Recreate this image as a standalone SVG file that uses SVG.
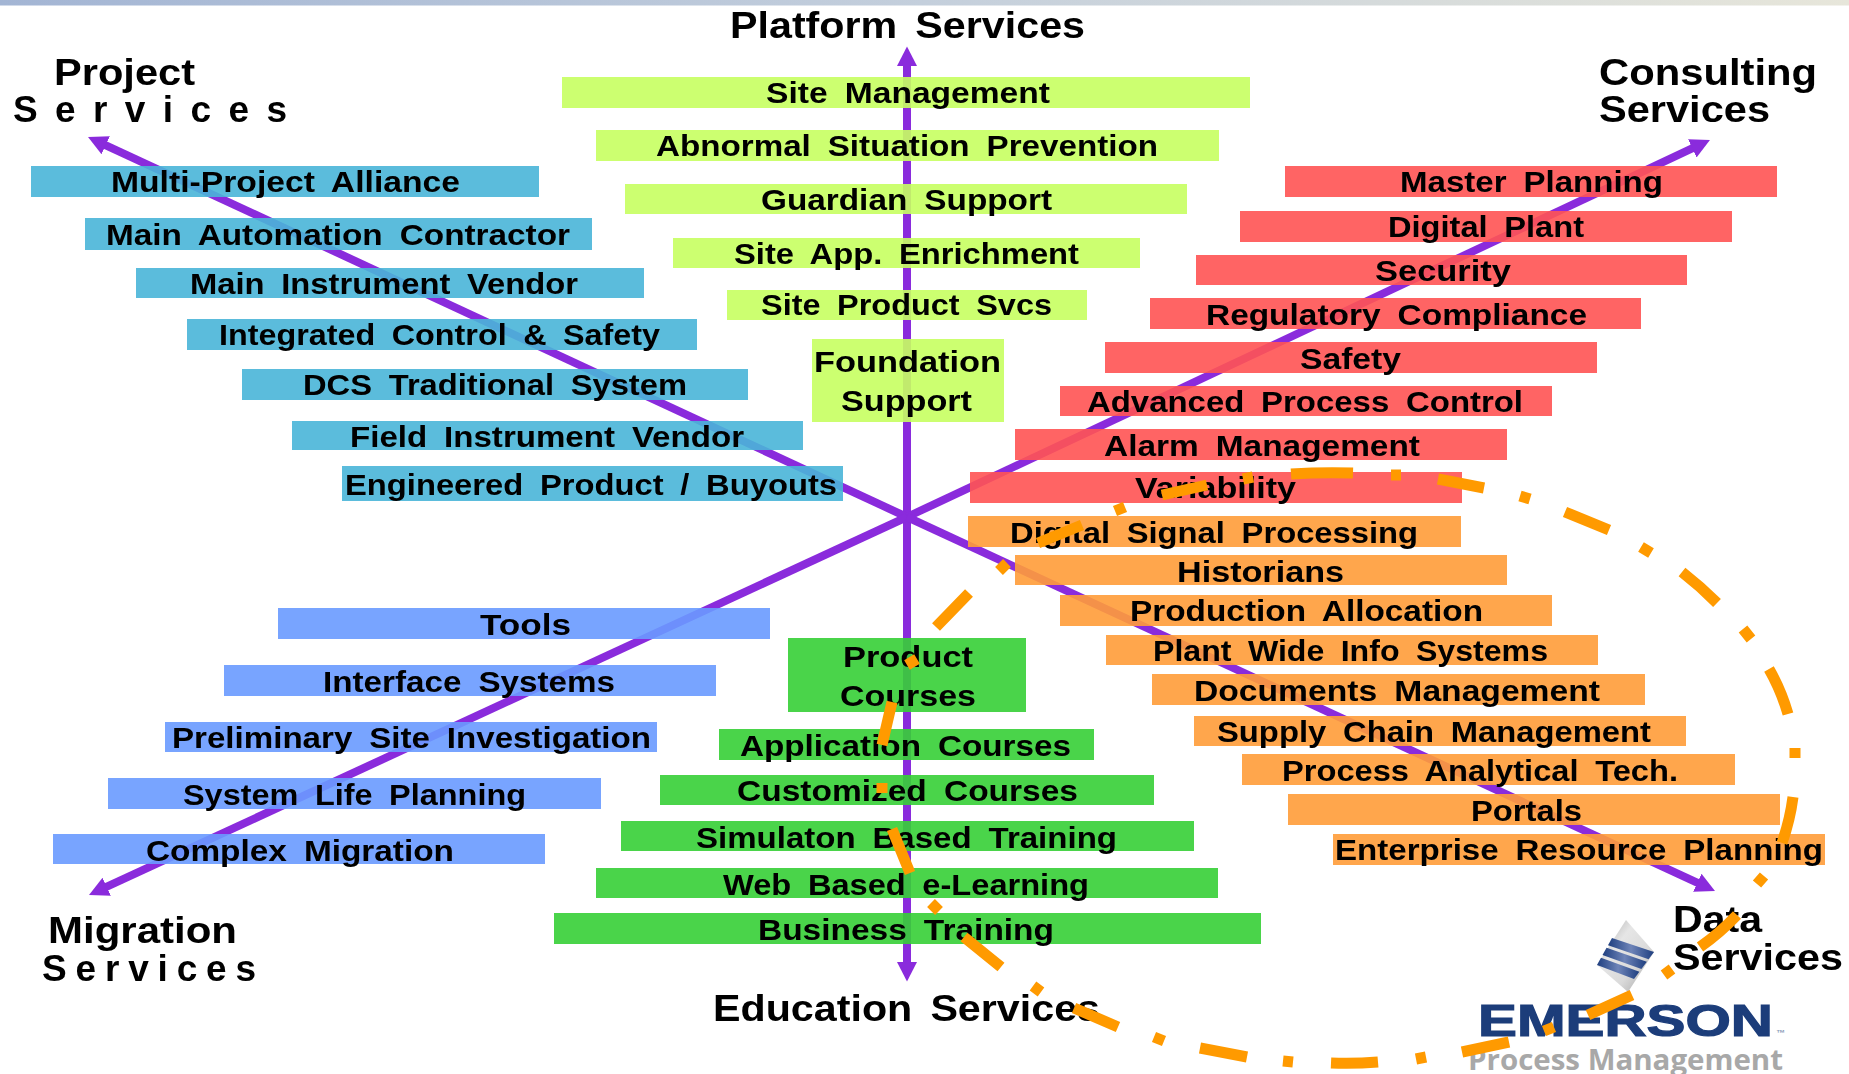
<svg xmlns="http://www.w3.org/2000/svg" width="1849" height="1074" viewBox="0 0 1849 1074">
<style>
text{font-family:"Liberation Sans",Arial,sans-serif;font-weight:700;fill:#000}
.t{font-size:30px;word-spacing:7px;filter:url(#soft)}
.h{font-size:37px;word-spacing:6px;filter:url(#soft)}
.teal{fill:#49B5D8}.lime{fill:#C7FF60}.red{fill:#FF5353}.org{fill:#FF9C39}.blue{fill:#699AFF}.grn{fill:#36CF36}
.bar{fill-opacity:.9}
.axis{stroke:#8A2BDC;stroke-width:8;fill:none;marker-end:url(#head)}
.ring{stroke:#FF9A00;stroke-width:11;fill:none}
</style>
<defs>
<filter id="soft" x="-5%" y="-20%" width="110%" height="140%"><feGaussianBlur stdDeviation="0.45"/></filter>
<linearGradient id="band"><stop offset="0" stop-color="#A3B5D4"/><stop offset=".5" stop-color="#C4CFDC"/><stop offset="1" stop-color="#E7E6DA"/></linearGradient>
<linearGradient id="steel" x1="0" y1="0" x2="1" y2="1"><stop offset="0" stop-color="#A0A0A0"/><stop offset=".35" stop-color="#E6E6E6"/><stop offset=".65" stop-color="#DADADA"/><stop offset="1" stop-color="#9C9C9C"/></linearGradient>
<linearGradient id="stripe"><stop offset="0" stop-color="#1F3F80"/><stop offset=".5" stop-color="#6E84B8"/><stop offset="1" stop-color="#1F3F80"/></linearGradient>
<marker id="head" markerUnits="userSpaceOnUse" markerWidth="22" markerHeight="24" refX="1" refY="12" orient="auto"><path d="M0,2 L19.5,12 L0,22 Z" fill="#8A2BDC"/></marker>
<clipPath id="cut"><rect x="0" y="900" width="400" height="81"/></clipPath>
</defs>
<rect x="0" y="0" width="1849" height="5.5" fill="url(#band)"/>
<g id="connectors">
<line class="axis" x1="907" y1="517" x2="907" y2="65"/>
<line class="axis" x1="907" y1="517" x2="907" y2="963"/>
<line class="axis" x1="907" y1="517" x2="104.8" y2="144.8"/>
<line class="axis" x1="907" y1="517" x2="1693.2" y2="147.9"/>
<line class="axis" x1="907" y1="517" x2="105.8" y2="887.2"/>
<line class="axis" x1="907" y1="517" x2="1698.2" y2="883.2"/>
</g>
<g id="platform-services"><text class="h" x="730" y="38" textLength="355" lengthAdjust="spacingAndGlyphs">Platform Services</text></g>
<g id="project-services"><text class="h" x="54" y="85" textLength="141" lengthAdjust="spacingAndGlyphs">Project</text><text class="h" x="13" y="122" textLength="288" style="letter-spacing:14px">Services</text></g>
<g id="consulting-services"><text class="h" x="1599" y="85" textLength="218" lengthAdjust="spacingAndGlyphs">Consulting</text><text class="h" x="1599" y="122" textLength="171" lengthAdjust="spacingAndGlyphs">Services</text></g>
<g id="migration-services"><text class="h" x="48" y="943" textLength="189" lengthAdjust="spacingAndGlyphs">Migration</text><g clip-path="url(#cut)"><text class="h" x="42" y="981" textLength="221" style="letter-spacing:7px">Services</text></g></g>
<g id="education-services"><text class="h" x="713" y="1021" textLength="387" lengthAdjust="spacingAndGlyphs">Education Services</text></g>
<g id="n-site-mgmt"><rect class="bar lime" x="562" y="77" width="688" height="31"/><text class="t" x="766" y="103" textLength="284" lengthAdjust="spacingAndGlyphs">Site Management</text></g>
<g id="n-abnormal"><rect class="bar lime" x="596" y="130" width="623" height="31"/><text class="t" x="656" y="156" textLength="502" lengthAdjust="spacingAndGlyphs">Abnormal Situation Prevention</text></g>
<g id="n-guardian"><rect class="bar lime" x="625" y="184" width="562" height="30"/><text class="t" x="761" y="210" textLength="291" lengthAdjust="spacingAndGlyphs">Guardian Support</text></g>
<g id="n-site-app"><rect class="bar lime" x="673" y="238" width="467" height="30"/><text class="t" x="734" y="264" textLength="345" lengthAdjust="spacingAndGlyphs">Site App. Enrichment</text></g>
<g id="n-site-product"><rect class="bar lime" x="727" y="290" width="360" height="30"/><text class="t" x="761" y="315" textLength="291" lengthAdjust="spacingAndGlyphs">Site Product Svcs</text></g>
<g id="n-foundation"><rect class="bar lime" x="812" y="339" width="192" height="83"/><text class="t" x="814" y="372" textLength="187" lengthAdjust="spacingAndGlyphs">Foundation</text><text class="t" x="841" y="411" textLength="131" lengthAdjust="spacingAndGlyphs">Support</text></g>
<g id="n-multi"><rect class="bar teal" x="31" y="166" width="508" height="31"/><text class="t" x="111" y="192" textLength="349" lengthAdjust="spacingAndGlyphs">Multi-Project Alliance</text></g>
<g id="n-main-auto"><rect class="bar teal" x="85" y="218" width="507" height="32"/><text class="t" x="106" y="245" textLength="464" lengthAdjust="spacingAndGlyphs">Main Automation Contractor</text></g>
<g id="n-main-instr"><rect class="bar teal" x="136" y="268" width="508" height="30"/><text class="t" x="190" y="294" textLength="388" lengthAdjust="spacingAndGlyphs">Main Instrument Vendor</text></g>
<g id="n-integrated"><rect class="bar teal" x="187" y="319" width="510" height="31"/><text class="t" x="219" y="345" textLength="441" lengthAdjust="spacingAndGlyphs">Integrated Control &amp; Safety</text></g>
<g id="n-dcs"><rect class="bar teal" x="242" y="369" width="506" height="31"/><text class="t" x="303" y="395" textLength="384" lengthAdjust="spacingAndGlyphs">DCS Traditional System</text></g>
<g id="n-field"><rect class="bar teal" x="292" y="421" width="511" height="29"/><text class="t" x="350" y="447" textLength="394" lengthAdjust="spacingAndGlyphs">Field Instrument Vendor</text></g>
<g id="n-engineered"><rect class="bar teal" x="342" y="466" width="501" height="35"/><text class="t" x="345" y="495" textLength="492" lengthAdjust="spacingAndGlyphs">Engineered Product / Buyouts</text></g>
<g id="n-master"><rect class="bar red" x="1285" y="166" width="492" height="31"/><text class="t" x="1400" y="192" textLength="263" lengthAdjust="spacingAndGlyphs">Master Planning</text></g>
<g id="n-digital-plant"><rect class="bar red" x="1240" y="211" width="492" height="31"/><text class="t" x="1388" y="237" textLength="196" lengthAdjust="spacingAndGlyphs">Digital Plant</text></g>
<g id="n-security"><rect class="bar red" x="1196" y="255" width="491" height="30"/><text class="t" x="1375" y="281" textLength="136" lengthAdjust="spacingAndGlyphs">Security</text></g>
<g id="n-regulatory"><rect class="bar red" x="1150" y="298" width="491" height="31"/><text class="t" x="1206" y="325" textLength="381" lengthAdjust="spacingAndGlyphs">Regulatory Compliance</text></g>
<g id="n-safety"><rect class="bar red" x="1105" y="342" width="492" height="31"/><text class="t" x="1300" y="369" textLength="101" lengthAdjust="spacingAndGlyphs">Safety</text></g>
<g id="n-apc"><rect class="bar red" x="1060" y="386" width="492" height="30"/><text class="t" x="1087" y="412" textLength="436" lengthAdjust="spacingAndGlyphs">Advanced Process Control</text></g>
<g id="n-alarm"><rect class="bar red" x="1015" y="429" width="492" height="31"/><text class="t" x="1104" y="456" textLength="316" lengthAdjust="spacingAndGlyphs">Alarm Management</text></g>
<g id="n-variability"><rect class="bar red" x="970" y="472" width="492" height="31"/><text class="t" x="1135" y="498" textLength="161" lengthAdjust="spacingAndGlyphs">Variability</text></g>
<g id="n-dsp"><rect class="bar org" x="968" y="516" width="493" height="31"/><text class="t" x="1010" y="543" textLength="408" lengthAdjust="spacingAndGlyphs">Digital Signal Processing</text></g>
<g id="n-historians"><rect class="bar org" x="1015" y="555" width="492" height="30"/><text class="t" x="1177" y="582" textLength="167" lengthAdjust="spacingAndGlyphs">Historians</text></g>
<g id="n-production"><rect class="bar org" x="1060" y="595" width="492" height="31"/><text class="t" x="1130" y="621" textLength="353" lengthAdjust="spacingAndGlyphs">Production Allocation</text></g>
<g id="n-plant"><rect class="bar org" x="1106" y="635" width="492" height="30"/><text class="t" x="1153" y="661" textLength="395" lengthAdjust="spacingAndGlyphs">Plant Wide Info Systems</text></g>
<g id="n-documents"><rect class="bar org" x="1152" y="674" width="493" height="31"/><text class="t" x="1194" y="701" textLength="406" lengthAdjust="spacingAndGlyphs">Documents Management</text></g>
<g id="n-supply"><rect class="bar org" x="1194" y="716" width="492" height="30"/><text class="t" x="1217" y="742" textLength="434" lengthAdjust="spacingAndGlyphs">Supply Chain Management</text></g>
<g id="n-process"><rect class="bar org" x="1242" y="754" width="493" height="31"/><text class="t" x="1282" y="781" textLength="396" lengthAdjust="spacingAndGlyphs">Process Analytical Tech.</text></g>
<g id="n-portals"><rect class="bar org" x="1288" y="794" width="492" height="31"/><text class="t" x="1471" y="821" textLength="111" lengthAdjust="spacingAndGlyphs">Portals</text></g>
<g id="n-enterprise"><rect class="bar org" x="1333" y="834" width="492" height="31"/><text class="t" x="1335" y="860" textLength="488" lengthAdjust="spacingAndGlyphs">Enterprise Resource Planning</text></g>
<g id="n-tools"><rect class="bar blue" x="278" y="608" width="492" height="31"/><text class="t" x="480" y="635" textLength="91" lengthAdjust="spacingAndGlyphs">Tools</text></g>
<g id="n-interface"><rect class="bar blue" x="224" y="665" width="492" height="31"/><text class="t" x="323" y="692" textLength="292" lengthAdjust="spacingAndGlyphs">Interface Systems</text></g>
<g id="n-prelim"><rect class="bar blue" x="165" y="722" width="492" height="30"/><text class="t" x="172" y="748" textLength="479" lengthAdjust="spacingAndGlyphs">Preliminary Site Investigation</text></g>
<g id="n-system"><rect class="bar blue" x="108" y="778" width="493" height="31"/><text class="t" x="183" y="805" textLength="343" lengthAdjust="spacingAndGlyphs">System Life Planning</text></g>
<g id="n-complex"><rect class="bar blue" x="53" y="834" width="492" height="30"/><text class="t" x="146" y="861" textLength="308" lengthAdjust="spacingAndGlyphs">Complex Migration</text></g>
<g id="n-product"><rect class="bar grn" x="788" y="638" width="238" height="74"/><text class="t" x="843" y="667" textLength="130" lengthAdjust="spacingAndGlyphs">Product</text><text class="t" x="840" y="706" textLength="136" lengthAdjust="spacingAndGlyphs">Courses</text></g>
<g id="n-application"><rect class="bar grn" x="719" y="729" width="375" height="31"/><text class="t" x="740" y="756" textLength="331" lengthAdjust="spacingAndGlyphs">Application Courses</text></g>
<g id="n-customized"><rect class="bar grn" x="660" y="775" width="494" height="30"/><text class="t" x="737" y="801" textLength="341" lengthAdjust="spacingAndGlyphs">Customized Courses</text></g>
<g id="n-simulation"><rect class="bar grn" x="621" y="821" width="573" height="30"/><text class="t" x="696" y="848" textLength="421" lengthAdjust="spacingAndGlyphs">Simulaton Based Training</text></g>
<g id="n-web"><rect class="bar grn" x="596" y="868" width="622" height="30"/><text class="t" x="723" y="895" textLength="366" lengthAdjust="spacingAndGlyphs">Web Based e-Learning</text></g>
<g id="n-business"><rect class="bar grn" x="554" y="913" width="707" height="31"/><text class="t" x="758" y="940" textLength="296" lengthAdjust="spacingAndGlyphs">Business Training</text></g>
<g id="data-services"><text class="h" x="1673" y="932" textLength="89" lengthAdjust="spacingAndGlyphs">Data</text><text class="h" x="1673" y="970" textLength="170" lengthAdjust="spacingAndGlyphs">Services</text></g>
<g id="logo">
<polygon points="1626,920 1654,952 1628,992 1597,965" fill="url(#steel)"/>
<polygon points="1612,938 1654,952 1648.6,959.3 1608,945.3" fill="url(#stripe)"/>
<polygon points="1606.6,947.7 1646.8,961.7 1641.4,969 1602.5,955" fill="url(#stripe)"/>
<polygon points="1601,957.7 1639.4,971.7 1634,979 1597,965" fill="url(#stripe)"/>
<text x="1478" y="1036" textLength="295" lengthAdjust="spacingAndGlyphs" style="fill:#1C3D7A;stroke:#1C3D7A;stroke-width:1.2px;font-size:45px">EMERSON</text>
<text x="1776" y="1036" style="fill:#8A9BB8;font-size:9px">™</text>
<text x="1468" y="1070" textLength="315" lengthAdjust="spacingAndGlyphs" style="font-family:'Open Sans','Liberation Sans',sans-serif;fill:#A8A8A8;font-size:29px">Process Management</text>
</g>
<g id="highlight-ring">
<path class="ring" d="M1162,495L1207,485M1243,479L1253,477M1291,474Q1322,472 1353,473M1391,475L1401,475M1438,479L1484,488M1520,496L1530,499M1565,512L1609,530M1641,547L1651,553M1682,572Q1700,586 1717,603M1743,629L1751,639M1769,669Q1781,690 1788,714M1795,748L1795,758M1793,797Q1790,820 1782,843M1764,876L1757,884M1737,915Q1720,933 1700,947M1672,969L1664,975M1632,995L1588,1015M1554,1027L1544,1031M1509,1042L1462,1052M1426,1057L1416,1059M1378,1062Q1354,1064 1331,1063M1293,1062L1283,1061M1247,1057L1200,1048M1164,1041L1154,1037M1118,1027L1074,1008M1041,992L1033,986M1001,967L964,937M939,911L931,903M910,873L892,829M882,793L882,783M882,745L892,702M907,665L917,659M936,627L969,593M999,571L1007,563M1038,543L1082,525M1115,511L1125,507"/>
</g>
</svg>
